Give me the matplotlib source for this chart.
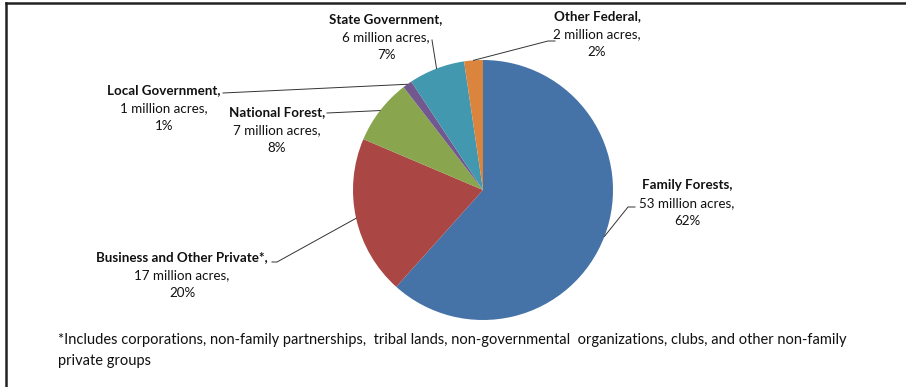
import matplotlib.pyplot as plt
from matplotlib.lines import Line2D
import numpy as np

# forest ownership, million acres
owners = ["Family Forests", "Business and Other Private*", "National Forest",
          "Local Government", "State Government", "Other Federal"]
acres = [53, 17, 7, 1, 6, 2]
colors = ["#4572A7", "#AA4643", "#89A54E", "#71588F", "#4198AF", "#DB843D"]

footnote = ["*Includes corporations, non-family partnerships,  tribal lands, "
            "non-governmental  organizations, clubs, and other non-family",
            "private groups"]

W, H = 906, 387
plt.rcParams['font.family'] = ['Lato', 'DejaVu Sans']
fig = plt.figure(figsize=(W / 100, H / 100), dpi=100)

# pie centre and radius in pixels
cx, cy, r = 483, 190, 130
ax = fig.add_axes([(cx - r) / W, (H - cy - r) / H, 2 * r / W, 2 * r / H])
wedges, _ = ax.pie(acres, colors=colors, startangle=90, counterclock=False,
                   radius=1, wedgeprops=dict(linewidth=0))
ax.set_xlim(-1, 1)
ax.set_ylim(-1, 1)
ax.set_aspect('equal')
ax.axis('off')


def px(x, y):
    # pixel (from top-left) -> pie data coords
    return (x - cx) / r, (cy - y) / r


# label block: centre x, first line y (pixels), leader path from text to wedge
labels = {
    "Family Forests": (687, 185, [(635, 207), (628, 207)]),
    "Business and Other Private*": (182, 257, [(272, 262), (277, 262)]),
    "National Forest": (277, 112, [(327, 113)]),
    "Local Government": (164, 90, [(223, 93)]),
    "State Government": (386, 19, [(432, 40)]),
    "Other Federal": (597, 16, [(555, 41), (548, 41)]),
}

total = sum(acres)
fs = 9.6
txt = '#111111'
for w, name, val in zip(wedges, owners, acres):
    x0, y0, path = labels[name]
    pct = round(val / total * 100)
    lines = [(name + ",", 'bold'), (f"{val} million acres,", 'normal'), (f"{pct}%", 'normal')]
    for i, (s, wt) in enumerate(lines):
        tx, ty = px(x0, y0 + i * 18)
        ax.text(tx, ty, s, ha='center', va='center', fontsize=fs,
                fontweight=wt, color=txt, clip_on=False)
    mid = np.deg2rad((w.theta1 + w.theta2) / 2)
    pts = [px(*p) for p in path] + [(np.cos(mid), np.sin(mid))]
    xs, ys = zip(*pts)
    ax.add_line(Line2D(xs, ys, color='#333333', lw=0.7, clip_on=False))

for i, line in enumerate(footnote):
    fig.text(58 / W, 1 - (340 + 21 * i) / H, line, ha='left', va='center',
             fontsize=10.5, color=txt)

# frame on the top and left edges
fig.add_artist(Line2D([6 / W, 1], [1 - 3 / H, 1 - 3 / H], color='#222222', lw=1.8,
                      transform=fig.transFigure))
fig.add_artist(Line2D([6 / W, 6 / W], [0, 1 - 3 / H], color='#222222', lw=1.8,
                      transform=fig.transFigure))

fig.savefig("out.png", dpi=100)
